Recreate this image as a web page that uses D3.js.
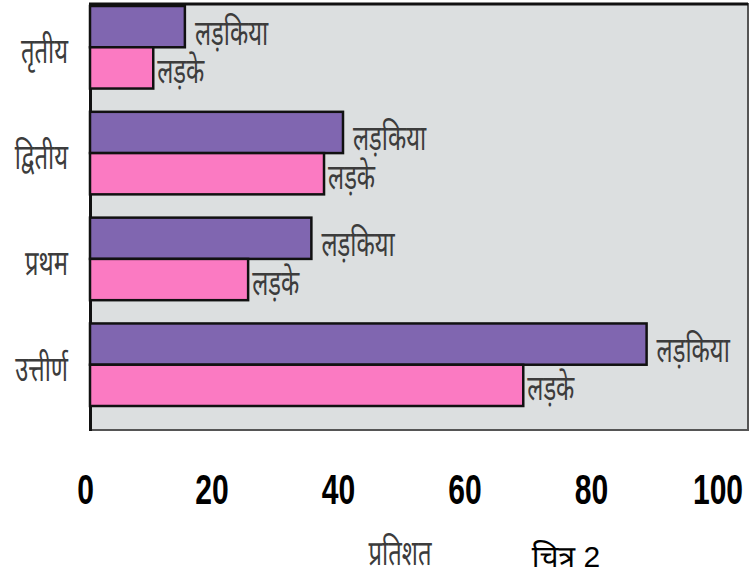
<!DOCTYPE html>
<html>
<head>
<meta charset="utf-8">
<script src="https://cdn.jsdelivr.net/npm/d3@7"></script>
<style>
  html, body { margin: 0; padding: 0; background: #ffffff; }
  svg { display: block; }
</style>
</head>
<body>
<svg id="chart" width="750" height="576"></svg>
<script>
// Exam results by division, girls vs boys (percent)
const categories = ["तृतीय", "द्वितीय", "प्रथम", "उत्तीर्ण"];
const girls = [15, 40, 35, 88];
const boys = [10, 37, 25, 68.5];
const seriesNames = ["लड़किया", "लड़के"];
const tickValues = [0, 20, 40, 60, 80, 100];
const axisTitle = "प्रतिशत";
const figureLabel = "चित्र 2";

const deva = "'Noto Sans Devanagari', 'Lohit Devanagari', 'Noto Sans', sans-serif";
const svg = d3.select("#chart");

const x = d3.scaleLinear().domain([0, 100]).range([90, 722.5]);
const y = d3.scaleBand().domain(categories).range([6, 406]).paddingInner(0.22);
const ySub = d3.scaleBand().domain(["g", "b"]).range([0, y.bandwidth()]);

// plot frame
svg.append("rect")
  .attr("x", 90).attr("y", 3).attr("width", 658).attr("height", 427)
  .attr("fill", "#dcdfe0");
svg.append("path").attr("d", "M748,3V430H90").attr("fill", "none")
  .attr("stroke", "#555").attr("stroke-width", 2);
svg.append("path").attr("d", "M90.5,431V4H748").attr("fill", "none")
  .attr("stroke", "#111").attr("stroke-width", 3);

const rows = categories.map((c, i) => ({ c, g: girls[i], b: boys[i] }));

const group = svg.selectAll("g.row").data(rows).join("g")
  .attr("class", "row")
  .attr("transform", d => `translate(0,${y(d.c)})`);

group.append("rect")
  .attr("x", x(0)).attr("y", ySub("g"))
  .attr("width", d => x(d.g) - x(0)).attr("height", ySub.bandwidth())
  .attr("fill", "#8066b0").attr("stroke", "#111").attr("stroke-width", 2.5);

group.append("rect")
  .attr("x", x(0)).attr("y", ySub("b"))
  .attr("width", d => x(d.b) - x(0)).attr("height", ySub.bandwidth())
  .attr("fill", "#fb7ac2").attr("stroke", "#111").attr("stroke-width", 2.5);

// thin condensed Devanagari text
function devaText(sel) {
  return sel.attr("font-family", deva).attr("font-size", 35)
    .attr("fill", "#3c3c3c");
}
const sx = 0.68;

// series labels beside each bar
group.append("text")
  .attr("transform", d => `translate(${x(d.g) + 10},${ySub("g") + ySub.bandwidth() / 2 + 18}) scale(${sx},1)`)
  .call(devaText)
  .text(seriesNames[0]);
group.append("text")
  .attr("transform", d => `translate(${x(d.b) + 4},${ySub("b") + ySub.bandwidth() / 2 + 15}) scale(${sx},1)`)
  .call(devaText)
  .text(seriesNames[1]);

// category labels
group.append("text")
  .attr("transform", `translate(68,${y.bandwidth() / 2 + 16}) scale(${sx},1)`)
  .attr("text-anchor", "end")
  .call(devaText)
  .text(d => d.c);

// x axis, condensed bold tick labels
const axis = svg.append("g")
  .attr("transform", "translate(-5,504)")
  .call(d3.axisBottom(x).tickValues(tickValues).tickSize(0).tickFormat(d3.format("d")));
axis.select(".domain").remove();
axis.selectAll(".tick text")
  .attr("y", 0).attr("dy", null)
  .attr("transform", "scale(0.7,1)")
  .attr("font-family", "'Liberation Sans', Arial, sans-serif")
  .attr("font-weight", "bold").attr("font-size", 43).attr("fill", "#000");

svg.append("text")
  .attr("transform", `translate(400,565) scale(${sx},1)`)
  .attr("text-anchor", "middle")
  .call(devaText)
  .text(axisTitle);

svg.append("text")
  .attr("x", 566).attr("y", 567)
  .attr("text-anchor", "middle")
  .attr("font-family", "'Liberation Sans', 'Noto Sans Devanagari', sans-serif")
  .attr("font-size", 30).attr("fill", "#000")
  .text(figureLabel);
</script>
</body>
</html>
